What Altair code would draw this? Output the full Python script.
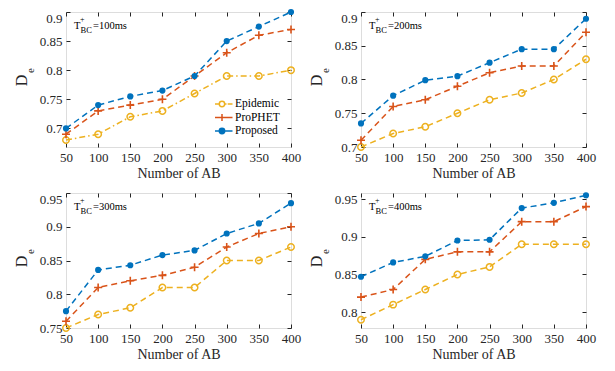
import altair as alt
import pandas as pd

ab = [50, 100, 150, 200, 250, 300, 350, 400]
series_names = ["Epidemic", "ProPHET", "Proposed"]
colors = ["#EDB120", "#D95319", "#0072BD"]

# T+BC = 100ms
epi_100 = [0.68, 0.69, 0.72, 0.73, 0.76, 0.79, 0.79, 0.80]
pro_100 = [0.69, 0.73, 0.74, 0.75, 0.79, 0.83, 0.86, 0.87]
prop_100 = [0.70, 0.74, 0.755, 0.765, 0.79, 0.85, 0.875, 0.90]
# T+BC = 200ms
epi_200 = [0.70, 0.72, 0.73, 0.75, 0.77, 0.78, 0.80, 0.83]
pro_200 = [0.71, 0.76, 0.77, 0.79, 0.81, 0.82, 0.82, 0.87]
prop_200 = [0.735, 0.776, 0.799, 0.805, 0.825, 0.845, 0.845, 0.89]
# T+BC = 300ms
epi_300 = [0.75, 0.77, 0.78, 0.81, 0.81, 0.85, 0.85, 0.87]
pro_300 = [0.76, 0.81, 0.82, 0.828, 0.84, 0.87, 0.89, 0.90]
prop_300 = [0.775, 0.836, 0.843, 0.858, 0.865, 0.89, 0.905, 0.935]
# T+BC = 400ms
epi_400 = [0.79, 0.81, 0.83, 0.85, 0.86, 0.89, 0.89, 0.89]
pro_400 = [0.82, 0.83, 0.87, 0.88, 0.88, 0.92, 0.92, 0.94]
prop_400 = [0.847, 0.866, 0.874, 0.895, 0.896, 0.938, 0.945, 0.955]

panel_keys = ["100ms", "200ms", "300ms", "400ms"]
panel_data = {
    "100ms": [epi_100, pro_100, prop_100],
    "200ms": [epi_200, pro_200, prop_200],
    "300ms": [epi_300, pro_300, prop_300],
    "400ms": [epi_400, pro_400, prop_400],
}
y_domains = {"100ms": [0.668, 0.9], "200ms": [0.7, 0.9],
             "300ms": [0.75, 0.95], "400ms": [0.779, 0.958]}
y_ticks = {"100ms": [0.7, 0.75, 0.8, 0.85, 0.9], "200ms": [0.7, 0.75, 0.8, 0.85, 0.9],
           "300ms": [0.75, 0.8, 0.85, 0.9, 0.95], "400ms": [0.8, 0.85, 0.9, 0.95]}

rows = []
for k in panel_keys:
    for s, vals in zip(series_names, panel_data[k]):
        for a, v in zip(ab, vals):
            rows.append({"panel": k, "series": s, "ab": a, "value": v})
df = pd.DataFrame(rows)

W, H = 225, 135
FONT = "Liberation Serif"
AXC = "#262626"

dash = [6, 4]
dashdot = [6, 3, 1.5, 3]

plus_path = "M-1,0H1M0,-1V1"
circ = "M-0.45,0A0.45,0.45 0 1,0 0.45,0A0.45,0.45 0 1,0 -0.45,0"
leg_paths = [
    "M-1.75,0H-0.45M0.45,0H0.75M0.95,0H1.75" + circ,
    "M-1.75,0H1.75M0,-0.6V0.6",
    "M-1.75,0H1.75" + circ,
]

one = pd.DataFrame({"a": [0]})


def panel(key, with_legend):
    d = df[df.panel == key]
    base = alt.Chart(d)
    top = y_domains[key][1]
    x = alt.X("ab:Q", scale=alt.Scale(domain=[50, 400], nice=False),
              axis=alt.Axis(values=ab, title="Number of AB", ticks=False, domain=False,
                            grid=True, gridColor=AXC, gridOpacity=1, gridWidth=1,
                            gridDash=[4, H - 8, 4, 1000], labelFlush=False,
                            labelOverlap=False,
                            labelFont=FONT, labelFontSize=13, labelColor=AXC,
                            labelPadding=4, titleFont=FONT, titleFontSize=14,
                            titleFontWeight="normal", titleColor=AXC, titlePadding=2))
    y = alt.Y("value:Q", scale=alt.Scale(domain=y_domains[key], nice=False, zero=False),
              axis=alt.Axis(values=y_ticks[key], format=".2~f", title=None, ticks=False,
                            domain=False, grid=True, gridColor=AXC, gridOpacity=1,
                            gridWidth=1, gridDash=[4, W - 8, 4, 1000],
                            labelOverlap=False, labelFlush=False,
                            labelBaseline={"condition": {"test": f"datum.value >= {top - 1e-6}",
                                                         "value": "top"},
                                           "value": "middle"},
                            labelFont=FONT, labelFontSize=13, labelColor=AXC,
                            labelPadding=4))
    layers = []
    for i, s in enumerate(series_names):
        f = base.transform_filter(alt.datum.series == s)
        dsh = dashdot if (key == "100ms" and s == "Epidemic") else dash
        layers.append(f.mark_line(color=colors[i], strokeWidth=1.5, strokeDash=dsh)
                      .encode(x=x, y=y))
        if s == "Epidemic":
            pts = f.mark_point(shape="circle", size=42, filled=False, color=colors[i],
                               strokeWidth=1.5, opacity=1)
        elif s == "ProPHET":
            pts = f.mark_point(shape=plus_path, size=64, filled=False, color=colors[i],
                               strokeWidth=1.6, opacity=1)
        else:
            pts = f.mark_point(shape="circle", size=38, filled=True, color=colors[i],
                               opacity=1)
        layers.append(pts.encode(x=x, y=y))

    # y axis title D_e
    layers.append(alt.Chart(one).mark_text(text="D", angle=270, font=FONT, fontSize=16,
                                           color=AXC, align="center", baseline="middle")
                  .encode(x=alt.value(-44), y=alt.value(H / 2 + 1)))
    layers.append(alt.Chart(one).mark_text(text="e", angle=270, font=FONT, fontSize=11,
                                           color=AXC, align="center", baseline="middle")
                  .encode(x=alt.value(-35), y=alt.value(H / 2 - 9)))
    # annotation T^+_BC = xxx
    ann = [("T", 8, 17, 10.5), ("+", 14, 10, 8), ("BC", 14.5, 21, 8.5),
           ("=" + key, 27, 17, 10.5)]
    for t, ax, ay, fs in ann:
        layers.append(alt.Chart(one).mark_text(text=t, font=FONT, fontSize=fs, color="#000",
                                               align="left", baseline="alphabetic")
                      .encode(x=alt.value(ax), y=alt.value(ay)))

    if with_legend:
        leg_common = dict(orient="none", legendX=149, legendY=86, title=None, padding=0,
                          rowPadding=1.5, clipHeight=12, labelOffset=6, labelFont=FONT,
                          labelFontSize=11.5, labelColor="#000", symbolSize=144,
                          symbolStrokeWidth=1.5, labelLimit=200)
        leg = base.transform_filter("false").mark_point(size=144, strokeWidth=1.5,
                                                        opacity=1).encode(
            x=x, y=y,
            shape=alt.Shape("series:N", scale=alt.Scale(domain=series_names, range=leg_paths),
                            legend=alt.Legend(**leg_common)),
            stroke=alt.Stroke("series:N", scale=alt.Scale(domain=series_names, range=colors),
                              legend=alt.Legend(**leg_common)),
            fill=alt.Fill("series:N", scale=alt.Scale(domain=series_names,
                                                       range=["transparent", "transparent",
                                                              colors[2]]),
                          legend=alt.Legend(**leg_common)),
        )
        layers.append(leg)

    return alt.layer(*layers).properties(width=W, height=H)


chart = alt.concat(
    panel("100ms", True), panel("200ms", False),
    panel("300ms", False), panel("400ms", False),
    columns=2, spacing=alt.RowColnumber(column=6, row=10),
).configure_view(stroke="#555555", strokeWidth=1).configure(
    background="white", padding={"left": 5, "top": 0, "right": 5, "bottom": 0})

chart.save("out.html", embed_options={"renderer": "svg", "actions": False})
